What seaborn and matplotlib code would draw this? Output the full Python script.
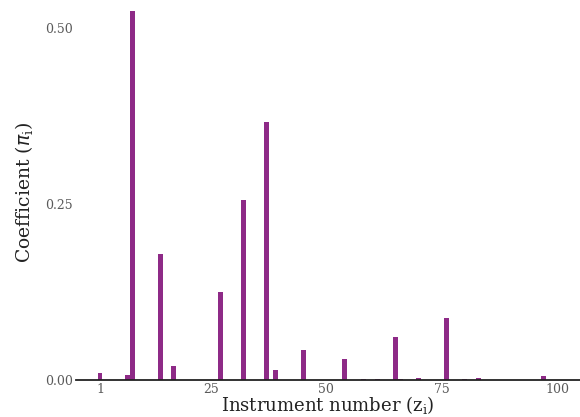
import numpy as np
import pandas as pd
import seaborn as sns
import matplotlib.pyplot as plt

# instrument numbers 1..100, most coefficients are zero
instruments = list(range(1, 101))
nonzero_idx = [1, 7, 8, 14, 17, 27, 32, 37, 39, 45, 54, 58, 61, 65, 66, 70, 76, 80, 83, 97]
nonzero_val = [0.010, 0.007, 0.524, 0.179, 0.020, 0.125, 0.256, 0.367, 0.014, 0.043,
               0.030, 0.0006, 0.0006, 0.061, 0.0015, 0.002, 0.088, 0.0006, 0.003, 0.005]
x_ticks = [1, 25, 50, 75, 100]
y_ticks = [0.00, 0.25, 0.50]

coef = dict(zip(nonzero_idx, nonzero_val))
df = pd.DataFrame({'instrument': instruments,
                   'coef': [coef.get(i, 0.0) for i in instruments]})

sns.set_style('white')
plt.rcParams['font.family'] = ['DejaVu Serif']

fig = plt.figure(figsize=(5.8, 4.17), dpi=100)
ax = fig.add_axes([0.131, 0.089, 0.869, 0.899])

sns.barplot(data=df, x='instrument', y='coef', native_scale=True, width=1.08,
            color='#8e2a87', saturation=1, linewidth=0, ax=ax)

ax.set_xlim(-4.2, 104.9)
ax.set_ylim(0, 0.533)
ax.set_xticks(x_ticks)
ax.set_xticklabels([str(t) for t in x_ticks])
ax.set_yticks(y_ticks)
ax.set_yticklabels([f'{t:.2f}' for t in y_ticks])
ax.tick_params(axis='both', length=0, labelsize=9, colors='#5a5a5a', pad=2)

for s in ['top', 'right', 'left']:
    ax.spines[s].set_visible(False)
ax.spines['bottom'].set_color('#222222')
ax.spines['bottom'].set_linewidth(1.3)

ax.set_xlabel(r'Instrument number ($\mathregular{z_i}$)', fontsize=13, color='#222222', labelpad=-1)
ax.set_ylabel(r'Coefficient ($\pi_\mathregular{i}$)', fontsize=13.5, color='#222222', labelpad=7)

fig.savefig('out.png', dpi=100)
